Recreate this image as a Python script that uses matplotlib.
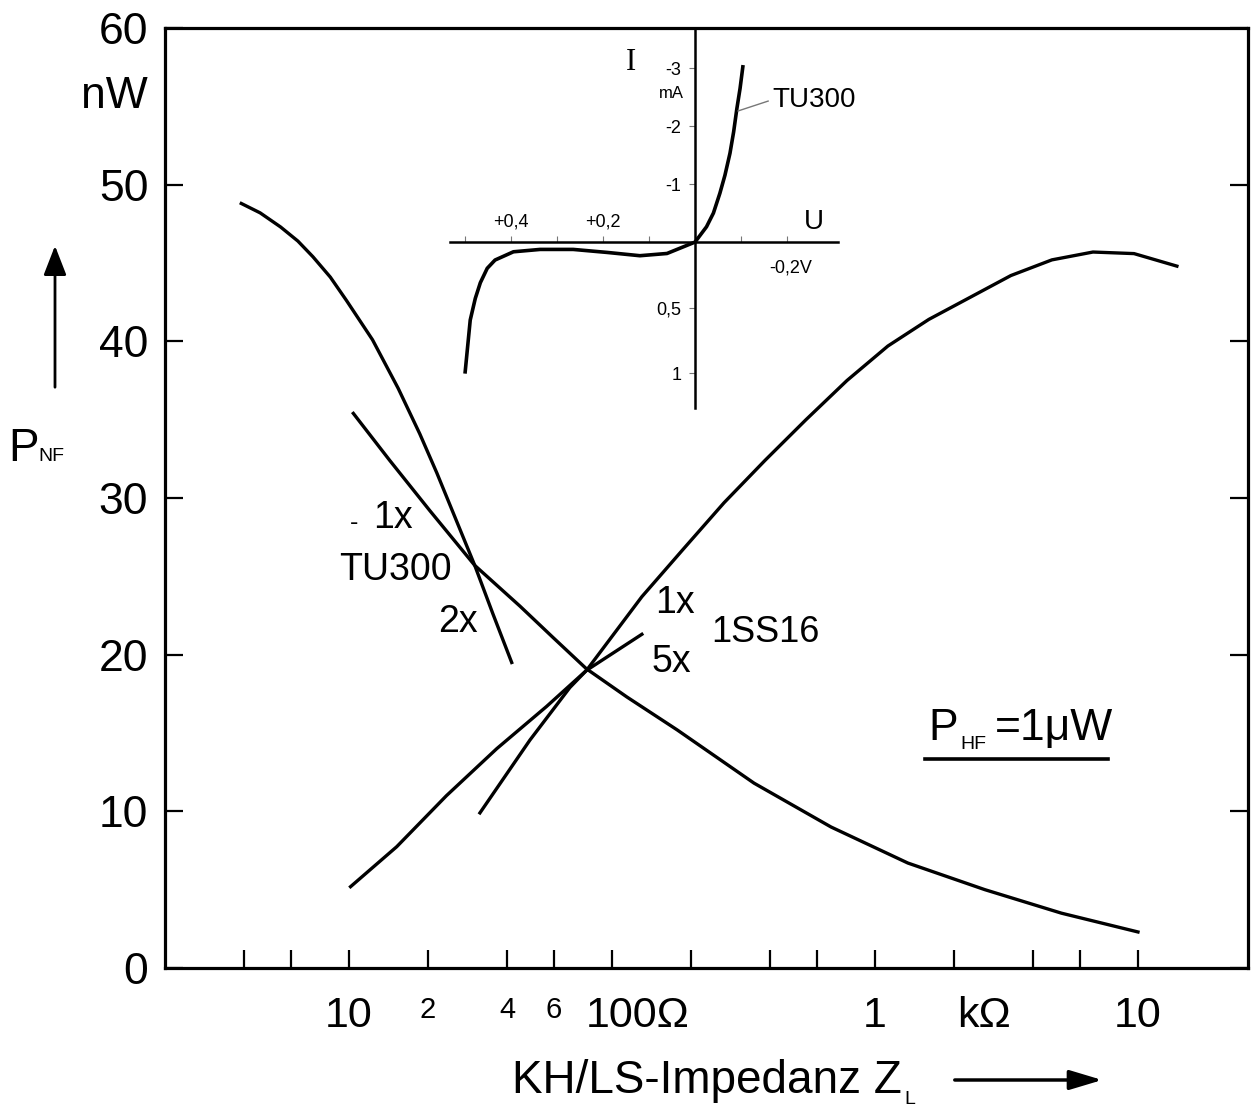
import numpy as np
import matplotlib.pyplot as plt
from matplotlib.lines import Line2D
from matplotlib.patches import FancyArrowPatch

plt.rcParams['font.family'] = ['Liberation Sans', 'DejaVu Sans']
NARROW = ['Liberation Sans Narrow', 'Liberation Sans', 'DejaVu Sans']

W, H = 1252, 1107

# ---------------- Daten ---------------- #
# TU300, 2x (steile Kurve links)
z_tu2 = [3.9, 4.6, 5.5, 6.4, 7.3, 8.5, 9.8, 12.3, 15.4, 18.6, 21.6, 30.1, 35.3, 41.6]
p_tu2 = [48.8, 48.2, 47.3, 46.4, 45.4, 44.1, 42.6, 40.1, 37.0, 34.1, 31.6, 25.7, 22.6, 19.5]

# TU300, 1x (fallende Kurve bis 10 kOhm)
z_tu1 = [10.4, 14.3, 20.3, 30.1, 44.7, 59.7, 80, 114, 177, 347, 681, 1334, 2618, 5117, 10000]
p_tu1 = [35.4, 32.4, 29.2, 25.7, 23.1, 21.1, 19.1, 17.3, 15.2, 11.8, 9.0, 6.7, 5.0, 3.5, 2.3]

# 1SS16, 1x (steigende Kurve)
z_ss1 = [31.5, 48.8, 69.2, 80.1, 130, 186, 267, 382, 547, 783, 1120, 1603, 2296, 3288,
         4708, 6743, 9660, 14060]
p_ss1 = [9.9, 14.55, 17.9, 19.0, 23.7, 26.7, 29.7, 32.4, 35.0, 37.5, 39.7, 41.4, 42.8, 44.2,
         45.2, 45.7, 45.6, 44.8]

# 1SS16, 5x
z_ss5 = [10.15, 15.2, 23.5, 36.5, 56.5, 80.1, 130]
p_ss5 = [5.19, 7.74, 11.0, 14.0, 16.7, 19.0, 21.3]

# Kennlinie TU300 (Inset): U in V, I in mA
u_kl = [0.50, 0.489, 0.478, 0.467, 0.452, 0.435, 0.395, 0.337, 0.265, 0.191, 0.12, 0.061,
        0.0, -0.025, -0.04, -0.054, -0.065, -0.076, -0.084, -0.091, -0.098, -0.104]
i_kl = [0.99, 0.595, 0.43, 0.31, 0.2, 0.137, 0.074, 0.056, 0.056, 0.079, 0.104, 0.087,
        0.0, -0.264, -0.5, -0.84, -1.15, -1.53, -1.9, -2.3, -2.65, -3.02]

x_ticks = [4, 6, 10, 20, 40, 60, 100, 200, 400, 600, 1000, 2000, 4000, 6000, 10000]
y_ticks = [0, 10, 20, 30, 40, 50, 60]

# ---------------- Hauptdiagramm ---------------- #
fig = plt.figure(figsize=(W / 100, H / 100), dpi=100)
ax = fig.add_axes([165 / W, 1 - 968 / H, (1248 - 165) / W, (968 - 28) / H])
ax.set_xscale('log')
ax.set_xlim(2.0, 26200)
ax.set_ylim(0, 60)
for s in ax.spines.values():
    s.set_linewidth(2.3)

lw = 2.4
ax.plot(z_tu2, p_tu2, color='black', lw=lw)
ax.plot(z_tu1, p_tu1, color='black', lw=lw)
ax.plot(z_ss1, p_ss1, color='black', lw=lw)
ax.plot(z_ss5, p_ss5, color='black', lw=lw)

ax.set_yticks(y_ticks)
ax.tick_params(axis='y', direction='in', length=13, width=1.6, labelsize=32, pad=12,
               right=True)
ax.set_xticks(x_ticks)
ax.xaxis.set_minor_locator(plt.NullLocator())
ax.set_xticklabels([])
ax.tick_params(axis='x', direction='in', length=13, width=1.6)

# x-Achsenbeschriftung
xt = ax.get_xaxis_transform()
ly = -(996 - 968) / 940
for xv, txt, fs in [(10, '10', 31), (20, '2', 21), (40, '4', 21), (60, '6', 21),
                    (125, '100Ω', 31), (1000, '1', 31), (2600, 'kΩ', 31), (10000, '10', 31)]:
    ax.text(xv, ly, txt, transform=xt, ha='center', va='top', fontsize=fs, family=NARROW)

fig.text(148 / W, 1 - 97 / H, 'nW', ha='right', va='center', fontsize=32)

# Achsentitel
fig.text(8 / W, 1 - 461 / H, 'P', ha='left', va='baseline', fontsize=33)
fig.text(38 / W, 1 - 461 / H, 'NF', ha='left', va='baseline', fontsize=14)
fig.add_artist(FancyArrowPatch(
    (55 / W, 1 - 390 / H), (55 / W, 1 - 243 / H), transform=fig.transFigure,
    arrowstyle='-|>,head_length=0.9,head_width=0.35', mutation_scale=20, color='black', lw=2))

fig.text(512 / W, 1 - 1093 / H, 'KH/LS-Impedanz Z', ha='left', va='baseline',
         fontsize=33, family=NARROW)
fig.text(904 / W, 1 - 1104 / H, 'L', ha='left', va='baseline', fontsize=14, family=NARROW)
fig.add_artist(FancyArrowPatch(
    (952 / W, 1 - 1080 / H), (1105 / W, 1 - 1080 / H), transform=fig.transFigure,
    arrowstyle='-|>,head_length=1.0,head_width=0.3', mutation_scale=20, color='black', lw=2.5))

# Kurvenbeschriftungen
ax.text(10.5, 28.4, '-', ha='center', va='center', fontsize=18)
ax.text(14.7, 28.7, '1x', ha='center', va='center', fontsize=27)
ax.text(15.1, 25.4, 'TU300', ha='center', va='center', fontsize=27)
ax.text(26.0, 22.1, '2x', ha='center', va='center', fontsize=27)
ax.text(174, 23.3, '1x', ha='center', va='center', fontsize=27)
ax.text(382, 21.4, '1SS16', ha='center', va='center', fontsize=26)
ax.text(169, 19.5, '5x', ha='center', va='center', fontsize=27)

ax.text(1590, 14.55, 'P', ha='left', va='baseline', fontsize=32)
ax.text(2120, 14.0, 'HF', ha='left', va='baseline', fontsize=14)
ax.text(2850, 14.55, '=1μW', ha='left', va='baseline', fontsize=32)
ax.add_line(Line2D([0.7018, 0.8707], [0.2223, 0.2223], transform=ax.transAxes,
                   color='black', lw=2.6))

# ---------------- Inset: Kennlinie ---------------- #
K = 131 / 58.0


def fwd(v):
    v = np.asarray(v, dtype=float)
    return np.where(v < 0, v, v * K)


def inv(v):
    v = np.asarray(v, dtype=float)
    return np.where(v < 0, v, v / K)


axi = fig.add_axes([450 / W, 1 - 408 / H, (838 - 450) / W, (408 - 30) / H])
axi.set_facecolor('none')
axi.set_yscale('function', functions=(fwd, inv))
axi.set_xlim(0.533, -0.311)
axi.set_ylim(1.266, -3.655)
axi.spines['left'].set_position(('data', 0))
axi.spines['bottom'].set_position(('data', 0))
axi.spines['top'].set_visible(False)
axi.spines['right'].set_visible(False)
axi.spines['left'].set_linewidth(1.8)
axi.spines['bottom'].set_linewidth(1.8)

axi.plot(u_kl, i_kl, color='black', lw=2.6)

axi.set_xticks([0.5, 0.4, 0.3, 0.2, 0.1, -0.1, -0.2])
axi.set_xticklabels([])
axi.tick_params(axis='x', direction='in', length=4, width=0.8, color='#777777')
axi.set_yticks([-3, -2, -1, 0.5, 1])
axi.set_yticklabels(['-3', '-2', '-1', '0,5', '1'])
axi.yaxis.set_minor_locator(plt.NullLocator())
axi.xaxis.set_minor_locator(plt.NullLocator())
axi.tick_params(axis='y', direction='out', length=4, width=0.8, color='#777777',
                labelsize=13, pad=6)

axi.text(0.4, -0.345, '+0,4', ha='center', va='center', fontsize=13)
axi.text(0.2, -0.345, '+0,2', ha='center', va='center', fontsize=13)
axi.text(-0.209, 0.198, '-0,2V', ha='center', va='center', fontsize=13)
axi.text(-0.259, -0.345, 'U', ha='center', va='center', fontsize=20)
axi.text(0.139, -3.09, 'I', ha='center', va='center', fontsize=22, family='Liberation Serif')
axi.text(0.052, -2.56, 'mA', ha='center', va='center', fontsize=12)
axi.plot([-0.0937, -0.159], [-2.26, -2.43], color='#777777', lw=1)
axi.text(-0.168, -2.45, 'TU300', ha='left', va='center', fontsize=20)

fig.savefig('out.png', dpi=100)
